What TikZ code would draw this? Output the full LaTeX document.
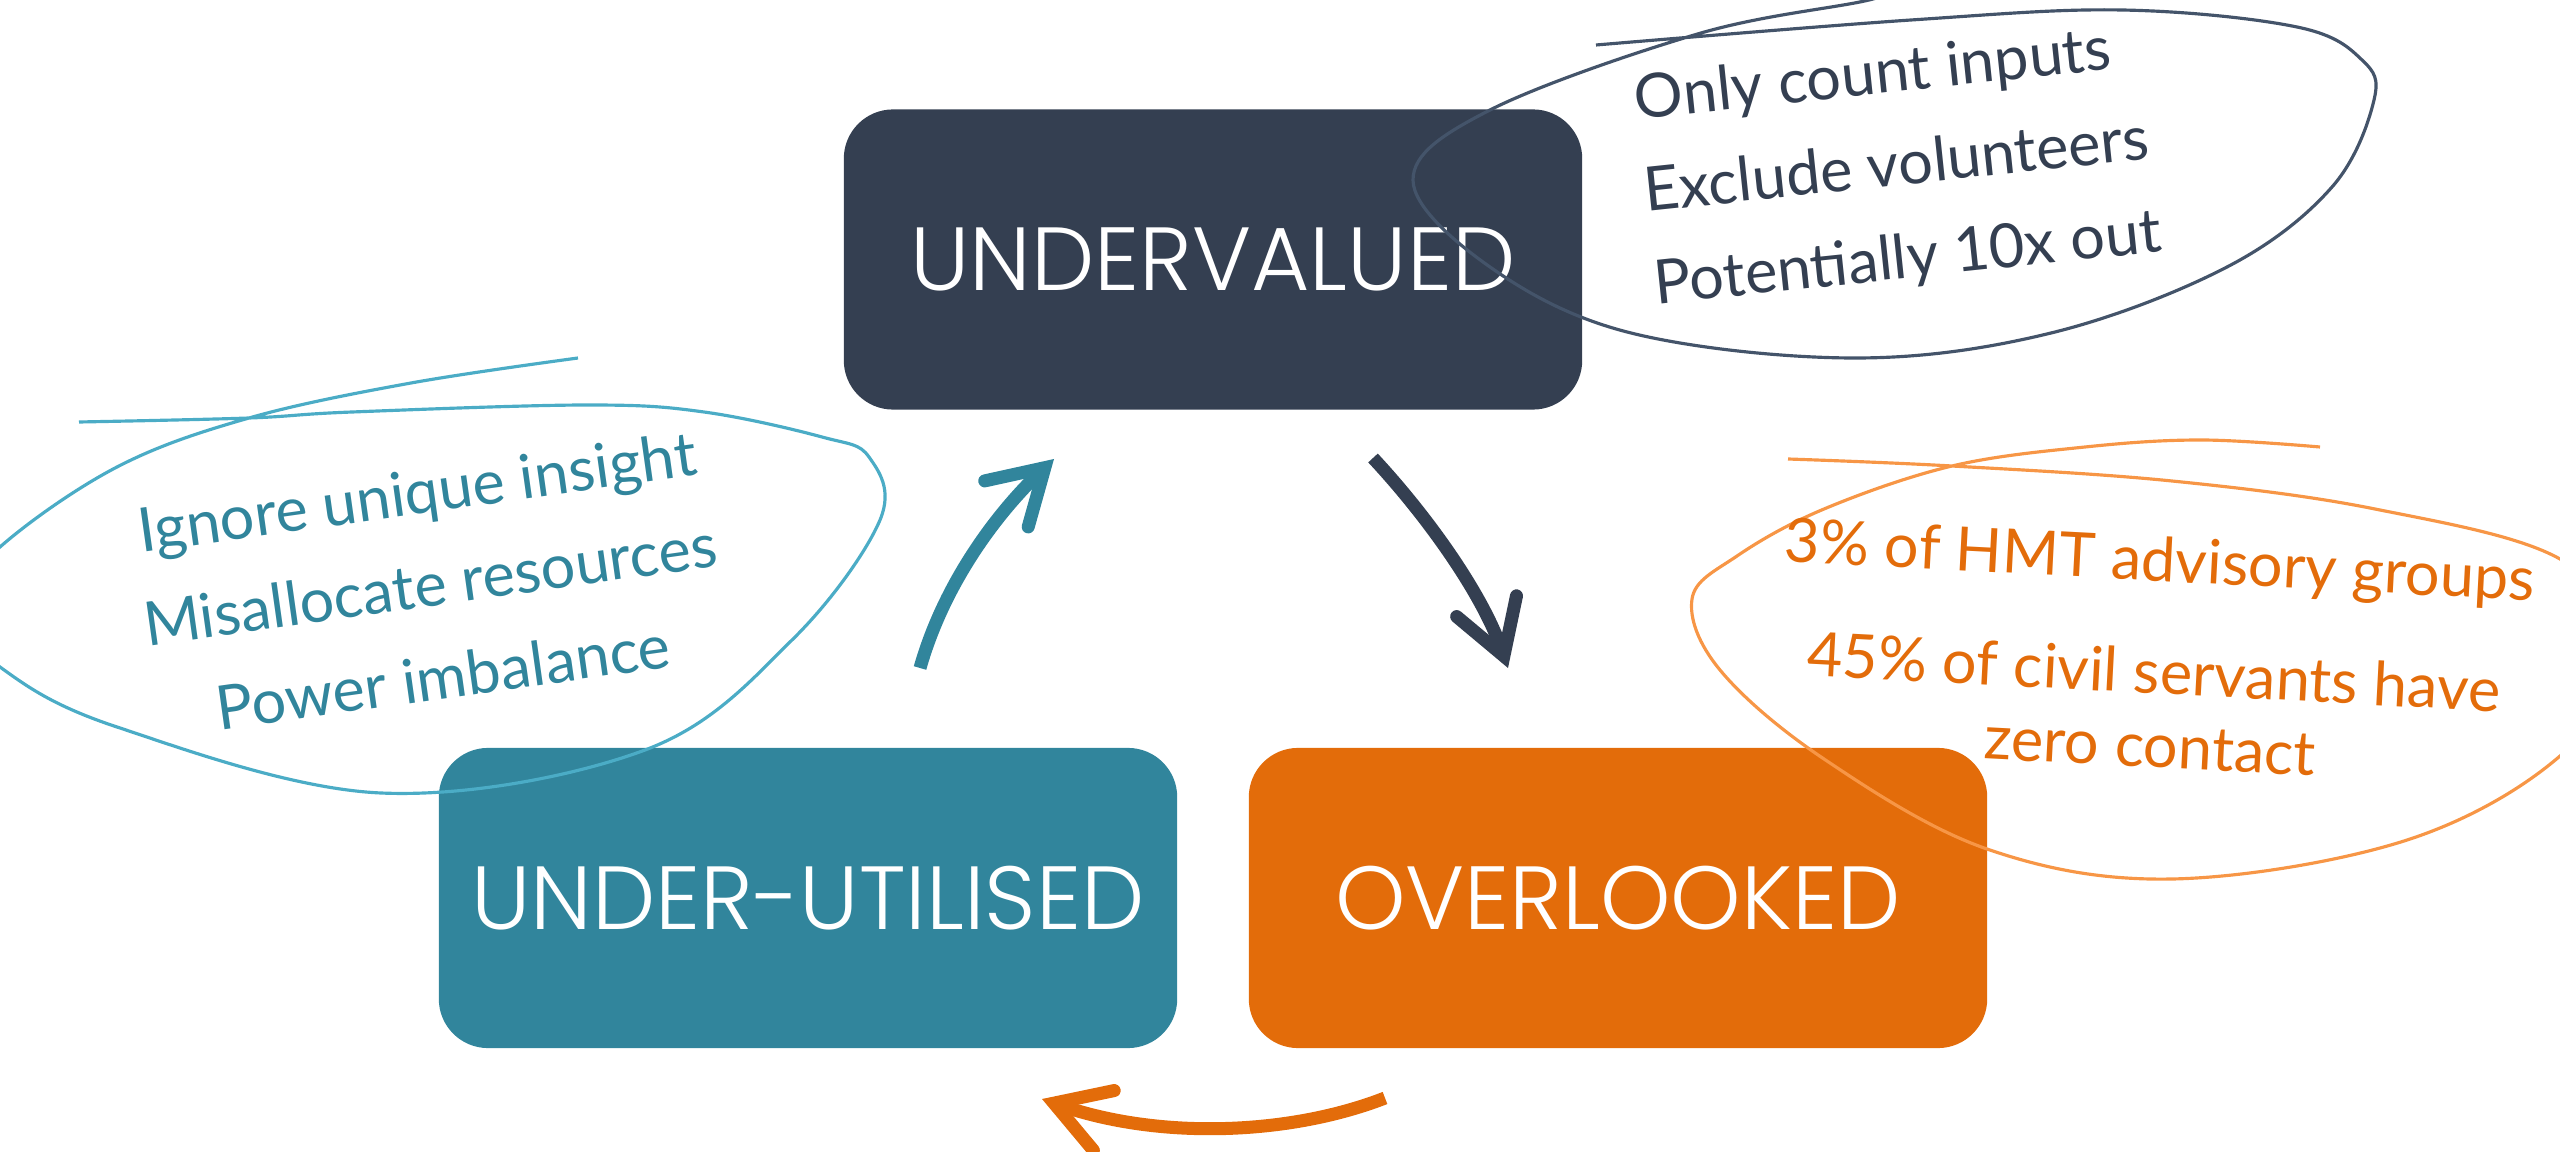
\documentclass[tikz,border=0pt]{standalone}
\usepackage{fontspec}
\usetikzlibrary{arrows.meta}
% thin geometric face for the stage labels, with fallbacks
\IfFontExistsTF{Poppins-Light}{\newfontfamily\boxfont{Poppins-Light}}{%
 \IfFontExistsTF{Poppins Light}{\newfontfamily\boxfont{Poppins Light}}{%
  \IfFontExistsTF{Lato-Light}{\newfontfamily\boxfont{Lato-Light}}{%
   \IfFontExistsTF{Lato Light}{\newfontfamily\boxfont{Lato Light}}{%
    \newfontfamily\boxfont{Poppins}}}}}
\newfontfamily\handfont{Lato}

\definecolor{navy}{RGB}{52,63,81}
\definecolor{tealbox}{RGB}{49,133,156}
\definecolor{orangebox}{RGB}{227,108,10}
\definecolor{navyline}{RGB}{68,84,106}
\definecolor{tealline}{RGB}{75,172,198}
\definecolor{orangeline}{RGB}{247,150,70}

\tikzset{
  stage/.style={rounded corners=14pt, minimum width=7.38cm, minimum height=3.0cm,
    inner sep=0pt, text=white, font=\boxfont\fontsize{25.5}{30}\selectfont},
  note/.style={font=\handfont\fontsize{17.4}{26.5}\selectfont, inner sep=0pt},
  loopline/.style={line width=0.9pt},
  cyclearrow/.style={line width=3.7pt,
    -{Straight Barb[length=15pt,width=18pt,line cap=round,line join=miter]}},
}

\begin{document}
\begin{tikzpicture}[x=0.01cm,y=-0.01cm]
\useasboundingbox (0,0) rectangle (2560,1152);

% the three stages of the cycle
\node[stage, fill=navy] (undervalued) at (1213,259.5) {UNDERVALUED};
\node[stage, fill=tealbox] (underutilised) at (808,898) {UNDER-UTILISED};
\node[stage, fill=orangebox] (overlooked) at (1618,898) {OVERLOOKED};

% free ends of the cycle arrows
\coordinate (a1s) at (920,668);
\coordinate (a1e) at (1054,459);
\coordinate (a2s) at (1373,458);
\coordinate (a2e) at (1508,668);
\coordinate (a3s) at (1385,1098);
\coordinate (a3e) at (1042,1099);

\draw[cyclearrow, tealbox] (a1s) .. controls (945,580) and (1000,510) .. (a1e);
\draw[cyclearrow, navy] (a2s) .. controls (1427,516) and (1482,593) .. (a2e);
\draw[cyclearrow, orangebox] (a3s) .. controls (1290,1135) and (1160,1140) .. (a3e);

% hand-drawn loops around the notes
\draw[loopline, navyline] plot[smooth, tension=0.6] coordinates {
  (1596,45) (1911,20) (2122,10) (2297,27) (2362,60) (2374,100) (2332,187)
  (2227,267) (2051,333) (1855,358) (1631,333) (1490,267) (1413,180)
  (1490,110) (1701,33) (1869,0) (1900,-15)};

\draw[loopline, tealline] plot[smooth, tension=0.6] coordinates {
  (578,358) (411,383) (249,418) (117,467) (0,547) (-45,610) (0,667)
  (117,727) (381,793) (645,750) (792,640) (880,520) (869,457) (822,437)
  (704,412) (587,405) (352,412) (249,418) (79,422)};

\draw[loopline, orangeline] plot[smooth, tension=0.6] coordinates {
  (1788,459) (1952,466) (2172,481) (2375,509) (2560,559) (2625,650)
  (2560,756) (2404,841) (2172,879) (1987,849) (1824,759) (1720,670)
  (1692,599) (1737,556) (1824,509) (1952,466) (2085,447) (2201,440)
  (2320,447)};

% notes
\node[note, text=navy, rotate=6, align=left] (navynote) at (1898,168)
  {Only count inputs\\Exclude volunteers\\Potentially 10x out};

\node[note, text=tealbox, rotate=8, align=center] (tealnote) at (430,584)
  {Ignore unique insight\\Misallocate resources\\Power imbalance};

\node[note, text=orangebox, rotate=-3, align=center,
  font=\handfont\fontsize{17.4}{21}\selectfont] (orangenote) at (2155,652)
  {3\% of HMT advisory groups\\[11pt]45\% of civil servants have\\zero contact};
\end{tikzpicture}
\end{document}
